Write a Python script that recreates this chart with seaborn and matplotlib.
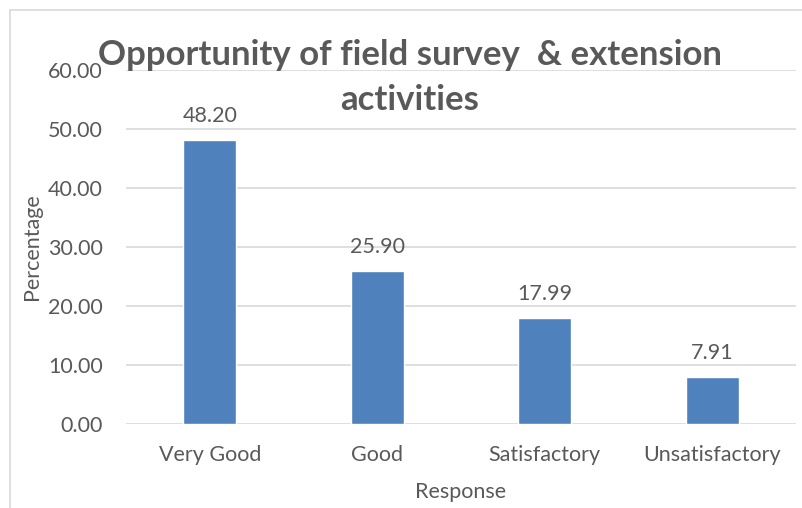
import matplotlib
matplotlib.use("Agg")
import matplotlib.pyplot as plt
import seaborn as sns
import pandas as pd
from matplotlib.patches import Rectangle

categories = ["Very Good", "Good", "Satisfactory", "Unsatisfactory"]
values = [48.20, 25.90, 17.99, 7.91]
yticks = [0, 10, 20, 30, 40, 50, 60]
title_lines = ["Opportunity of field survey  & extension", "activities"]

sns.set_theme(style="white")
plt.rcParams['font.family'] = ['Lato', 'DejaVu Sans']
text_color = "#595959"
fs = 15.5

df = pd.DataFrame({"Response": categories, "Percentage": values})

fig = plt.figure(figsize=(8.02, 5.08), dpi=100)
ax = fig.add_axes([126/802, 84/508, 670/802, 354/508])

sns.barplot(data=df, x="Response", y="Percentage", color="#4F81BD",
            width=0.316, saturation=1, ax=ax, zorder=3)

ax.set_ylim(0, 60)
ax.set_yticks(yticks)
ax.set_yticklabels([f"{v:.2f}" for v in yticks])
ax.yaxis.grid(True, color="#d9d9d9", linewidth=1.2, zorder=0)
ax.set_axisbelow(True)
for s in ax.spines.values():
    s.set_visible(False)
ax.tick_params(axis="both", length=0, labelsize=fs, colors=text_color)
ax.tick_params(axis="y", pad=16.5)
ax.tick_params(axis="x", pad=15)

for i, v in enumerate(values):
    ax.annotate(f"{v:.2f}", (i, v), xytext=(0, 13), textcoords="offset points",
                ha="center", va="baseline", fontsize=fs, color=text_color)

ax.set_xlabel("Response", fontsize=fs, color=text_color)
ax.set_ylabel("Percentage", fontsize=fs, color=text_color)
ax.xaxis.set_label_coords(0.5, -(492 - 424) / 354)
ax.yaxis.set_label_coords((32 - 126) / 670, 0.5)
ax.xaxis.label.set_va("center")
ax.yaxis.label.set_va("center")

for line, yb in zip(title_lines, [65, 110]):
    fig.text(410/802, 1 - yb/508, line, ha="center", va="baseline",
             fontsize=25, fontweight="bold", color=text_color)

fig.patches.append(Rectangle((10/802, -0.1), 1.0, 1 - 10/508 + 0.1,
                             transform=fig.transFigure, fill=False,
                             edgecolor="#d9d9d9", linewidth=1.2))

fig.savefig("out.png", dpi=100)
